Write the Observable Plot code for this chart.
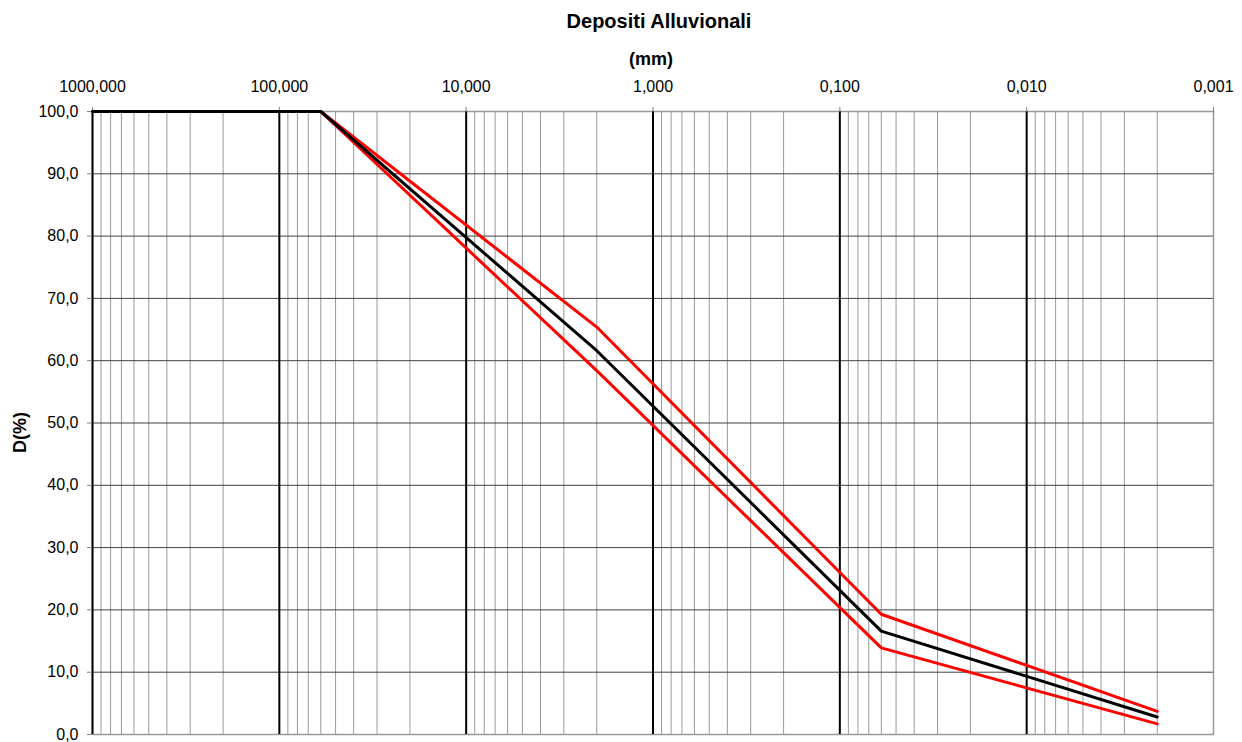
<!DOCTYPE html>
<html><head><meta charset="utf-8">
<script src="https://cdn.jsdelivr.net/npm/d3@7"></script>
<script src="https://cdn.jsdelivr.net/npm/@observablehq/plot@0.6"></script>
<style>
body{margin:0;background:#fff;font-family:"Liberation Sans",Arial,sans-serif;}
#title{position:relative;height:38px;width:1242px;}
#title span{position:absolute;left:659px;top:11px;transform:translateX(-50%);font-size:20px;font-weight:bold;line-height:20px;white-space:nowrap;color:#000;}
</style></head><body>
<div id="title"><span>Depositi Alluvionali</span></div>
<div id="chart"></div>
<script>
// grain size (mm) and percent passing
const sizes = [1000, 60, 2, 0.06, 0.002];
const passingMean  = [100, 100, 61.6, 16.6, 2.8];
const passingUpper = [100, 100, 65.4, 19.3, 3.7];
const passingLower = [100, 100, 58.4, 13.9, 1.7];

const xTicks = [1000, 100, 10, 1, 0.1, 0.01, 0.001];
const majorGrid = [1000, 100, 10, 1, 0.1, 0.01];
const minorMultipliers = [2, 3, 4, 5, 6, 7, 8, 9];
const yTicks = [0, 10, 20, 30, 40, 50, 60, 70, 80, 90, 100];

const minorGrid = [];
for (const d of majorGrid) for (const m of minorMultipliers) minorGrid.push(d / 10 * m);

const rows = sizes.map((s, i) => ({size: s, mean: passingMean[i], upper: passingUpper[i], lower: passingLower[i]}));

const fmtX = d => d3.format(".3f")(d).replace(".", ",");
const fmtY = d => d3.format(".1f")(d).replace(".", ",");

const chart = Plot.plot({
  width: 1242, height: 704,
  marginTop: 73, marginLeft: 92, marginRight: 29, marginBottom: 8,
  style: {fontFamily: '"Liberation Sans", Arial, sans-serif', fontSize: "16px", color: "#000", background: "#fff"},
  x: {type: "log", domain: [1000, 0.001]},
  y: {domain: [0, 100]},
  marks: [
    Plot.ruleX(minorGrid, {stroke: "#999", strokeWidth: 1}),
    Plot.ruleY(yTicks.filter(d => d > 0), {stroke: "#404040", strokeWidth: 1}),
    Plot.frame({stroke: "#999", strokeWidth: 1.5}),
    Plot.ruleX(majorGrid, {stroke: "#000", strokeWidth: 2}),
    Plot.axisX({anchor: "top", ticks: xTicks, tickFormat: fmtX, tickSize: 5, tickPadding: 15, stroke: "#808080", label: null}),
    Plot.axisY({anchor: "left", ticks: yTicks, tickFormat: fmtY, tickSize: 5, tickPadding: 9, stroke: "#808080", label: null}),
    Plot.line(rows, {x: "size", y: "upper", stroke: "#ff0000", strokeWidth: 3}),
    Plot.line(rows, {x: "size", y: "lower", stroke: "#ff0000", strokeWidth: 3}),
    Plot.line(rows, {x: "size", y: "mean", stroke: "#000", strokeWidth: 3}),
    Plot.text(["(mm)"], {text: d => d, frameAnchor: "top", lineAnchor: "middle", textAnchor: "middle", dx: -2, dy: -52.5, fontWeight: "bold", fontSize: 18}),
    Plot.text(["D(%)"], {text: d => d, frameAnchor: "left", lineAnchor: "middle", textAnchor: "middle", dx: -72, dy: 9.5, rotate: -90, fontWeight: "bold", fontSize: 18})
  ]
});
document.getElementById("chart").appendChild(chart);
</script>
</body></html>
